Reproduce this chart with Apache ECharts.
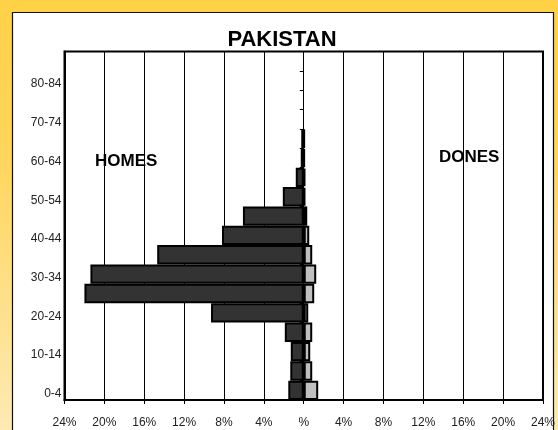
<!DOCTYPE html>
<html><head><meta charset="utf-8">
<script src="https://cdn.jsdelivr.net/npm/echarts@6/dist/echarts.min.js"></script>
<style>html,body{margin:0;padding:0;background:#fff}#c{width:558px;height:430px}</style>
</head><body><div id="c"></div>
<script>
const chartTitle = 'PAKISTAN';
const leftLabel = 'HOMES';
const rightLabel = 'DONES';
const categories = ['0-4','5-9','10-14','15-19','20-24','25-29','30-34','35-39','40-44','45-49','50-54','55-59','60-64','65-69','70-74','75-79','80-84','85+'];
const menValues = [1.55,1.35,1.3,1.9,9.3,22.0,21.4,14.7,8.2,6.1,2.1,0.8,0.3,0.25,null,null,null,null];
const womenValues = [1.45,0.85,0.65,0.85,0.45,1.05,1.25,0.85,0.55,0.35,0.15,0.15,0.08,0.08,null,null,null,null];
const xTickValues = [-24,-20,-16,-12,-8,-4,0,4,8,12,16,20,24];
const xTickLabels = ['24%','20%','16%','12%','8%','4%','%','4%','8%','12%','16%','20%','24%'];

const FONT = '"Liberation Sans", Arial, sans-serif';
const chart = echarts.init(document.getElementById('c'), null, {renderer: 'canvas'});
chart.setOption({
  animation: false,
  graphic: [
    {type: 'rect', z: -20, shape: {x: 0, y: 0, width: 558, height: 430},
      style: {fill: new echarts.graphic.LinearGradient(0, 0, 0, 1, [
        {offset: 0, color: '#FFD147'}, {offset: 0.35, color: '#FFD55A'}, {offset: 1, color: '#FDEAB4'}])}},
    {type: 'rect', z: -19, shape: {x: 12.5, y: 12.5, width: 541, height: 440},
      style: {fill: '#ffffff', stroke: '#111', lineWidth: 1.2}},
    {type: 'text', z: 100, x: 282, y: 40, style: {text: chartTitle, font: 'bold 22px ' + FONT, fill: '#000', textAlign: 'center', textVerticalAlign: 'middle'}},
    {type: 'text', z: 100, x: 95, y: 161, style: {text: leftLabel, font: 'bold 17px ' + FONT, fill: '#000', textAlign: 'left', textVerticalAlign: 'middle'}},
    {type: 'text', z: 100, x: 439, y: 157, style: {text: rightLabel, font: 'bold 17px ' + FONT, fill: '#000', textAlign: 'left', textVerticalAlign: 'middle'}}
  ],
  grid: {left: 64.5, right: 14, top: 51.5, bottom: 30, show: true, borderColor: '#000', borderWidth: 2, backgroundColor: 'transparent', containLabel: false},
  xAxis: {
    type: 'value', min: -24, max: 24, interval: 4,
    axisLine: {show: true, onZero: false, lineStyle: {color: '#000', width: 2}},
    axisTick: {show: true, length: 4, lineStyle: {color: '#000', width: 1}},
    splitLine: {show: true, lineStyle: {color: '#000', width: 1}},
    axisLabel: {margin: 17, fontSize: 12, fontFamily: FONT, color: '#222',
      formatter: v => xTickLabels[xTickValues.indexOf(v)]}
  },
  yAxis: [
    {type: 'category', data: categories, position: 'left',
      axisLine: {show: true, onZero: false, lineStyle: {color: '#000', width: 2}},
      axisTick: {show: false},
      axisLabel: {interval: 1, margin: 3, fontSize: 12, fontFamily: FONT, color: '#222', verticalAlign: 'top', lineHeight: 7},
      splitLine: {show: false}},
    {type: 'category', data: categories, position: 'left',
      axisLine: {show: true, onZero: true, lineStyle: {color: '#000', width: 1}},
      axisTick: {show: true, length: 4, interval: 0, lineStyle: {color: '#000', width: 1}},
      axisLabel: {show: false},
      splitLine: {show: false}}
  ],
  series: [
    {name: leftLabel, type: 'bar', stack: 'p', yAxisIndex: 0, barCategoryGap: '0%',
      data: menValues.map(v => v == null ? null : -v),
      itemStyle: {color: '#333333', borderColor: '#000', borderWidth: 2}},
    {name: rightLabel, type: 'bar', stack: 'p', yAxisIndex: 0, barCategoryGap: '0%',
      data: womenValues,
      itemStyle: {color: '#C0C0C0', borderColor: '#000', borderWidth: 2}}
  ]
});
</script></body></html>
